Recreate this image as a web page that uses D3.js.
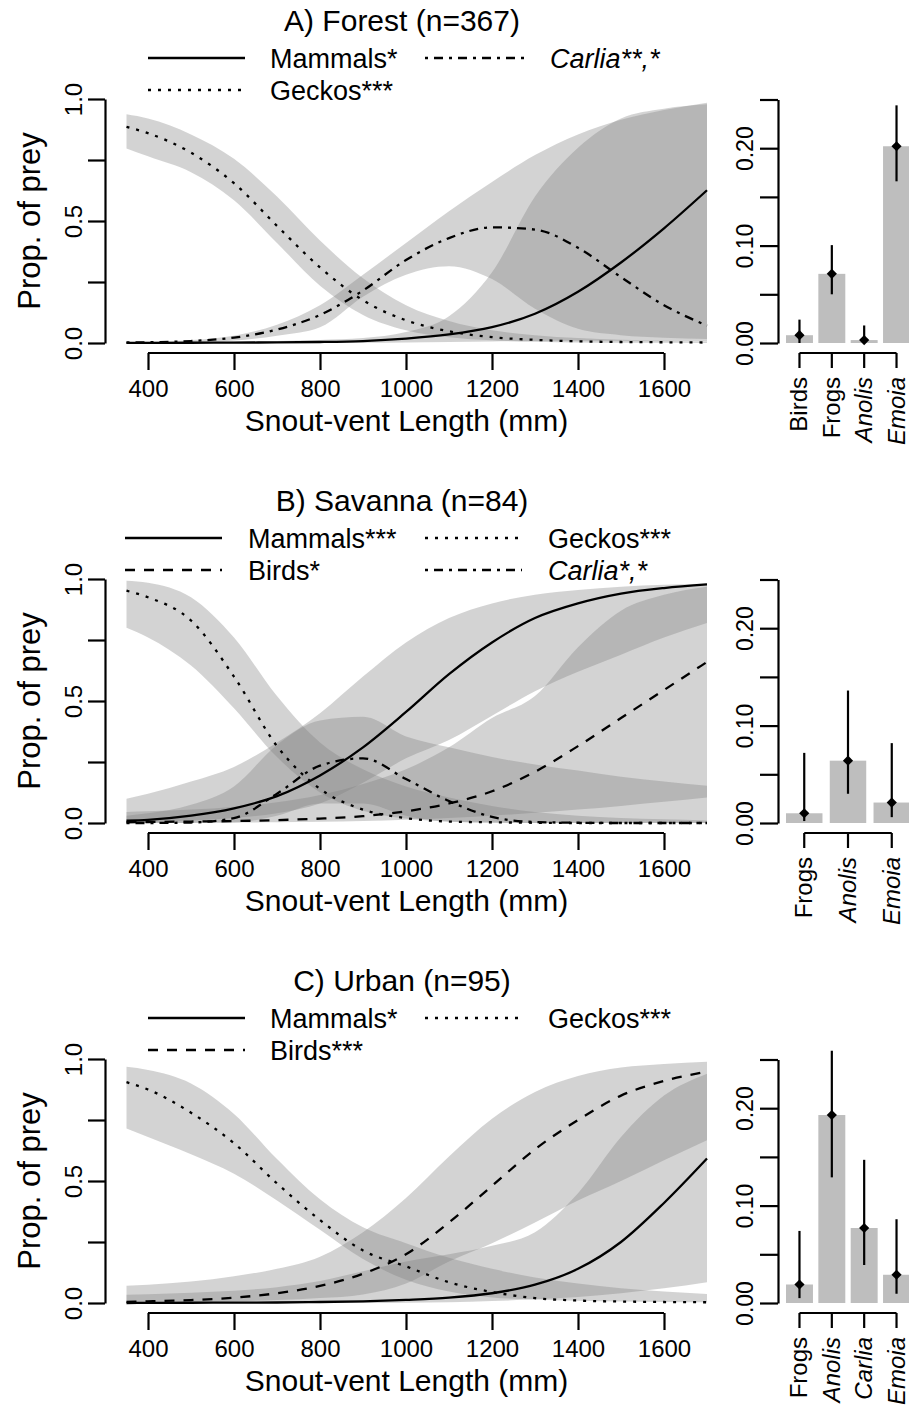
<!DOCTYPE html>
<html>
<head>
<meta charset="utf-8">
<script src="https://cdn.jsdelivr.net/npm/d3@7"></script>
<style>
  body { margin: 0; background: #fff; }
  text { font-family: "Liberation Sans", Arial, Helvetica, sans-serif; fill: #000; }
</style>
</head>
<body>
<svg id="fig" width="909" height="1412"></svg>
<script>
// ---- data ----
// snout-vent length sample points (mm)
const svl = [350, 400, 500, 600, 700, 800, 900, 1000, 1100, 1200, 1300, 1400, 1500, 1600, 1700];

// A) Forest
const forestMammals   = [0.0005, 0.0006, 0.001, 0.0015, 0.0025, 0.004, 0.008, 0.018, 0.035, 0.065, 0.12, 0.21, 0.33, 0.47, 0.626];
const forestMammalsLo = [0, 0, 0, 0, 0, 0.0005, 0.001, 0.002, 0.004, 0.006, 0.008, 0.009, 0.009, 0.008, 0.007];
const forestMammalsHi = [0.004, 0.004, 0.005, 0.006, 0.008, 0.012, 0.02, 0.045, 0.11, 0.29, 0.6, 0.8, 0.92, 0.96, 0.978];
const forestCarlia    = [0.002, 0.003, 0.008, 0.022, 0.055, 0.115, 0.215, 0.34, 0.43, 0.474, 0.465, 0.39, 0.27, 0.155, 0.071];
const forestCarliaLo  = [0, 0.001, 0.003, 0.01, 0.03, 0.065, 0.19, 0.28, 0.315, 0.262, 0.14, 0.058, 0.032, 0.022, 0.016];
const forestCarliaHi  = [0.003, 0.005, 0.012, 0.03, 0.075, 0.155, 0.28, 0.41, 0.54, 0.66, 0.77, 0.855, 0.915, 0.955, 0.985];
const forestGeckos    = [0.886, 0.86, 0.78, 0.655, 0.48, 0.31, 0.175, 0.093, 0.048, 0.024, 0.013, 0.007, 0.004, 0.003, 0.002];
const forestGeckosLo  = [0.797, 0.765, 0.70, 0.585, 0.41, 0.235, 0.115, 0.052, 0.024, 0.011, 0.005, 0.002, 0.001, 0.001, 0];
const forestGeckosHi  = [0.937, 0.92, 0.855, 0.755, 0.60, 0.42, 0.265, 0.155, 0.09, 0.052, 0.032, 0.02, 0.013, 0.009, 0.006];

// B) Savanna
const savMammals   = [0.01, 0.013, 0.03, 0.06, 0.11, 0.195, 0.31, 0.455, 0.61, 0.74, 0.84, 0.9, 0.94, 0.963, 0.978];
const savMammalsLo = [0.003, 0.004, 0.01, 0.02, 0.04, 0.08, 0.165, 0.265, 0.34, 0.44, 0.54, 0.62, 0.69, 0.76, 0.82];
const savMammalsHi = [0.099, 0.12, 0.17, 0.23, 0.33, 0.45, 0.6, 0.74, 0.84, 0.9, 0.935, 0.955, 0.968, 0.976, 0.982];
const savBirds     = [0.003, 0.004, 0.006, 0.008, 0.012, 0.018, 0.028, 0.048, 0.08, 0.13, 0.21, 0.315, 0.43, 0.545, 0.66];
const savBirdsLo   = [0, 0, 0.001, 0.002, 0.003, 0.005, 0.008, 0.013, 0.02, 0.03, 0.042, 0.055, 0.07, 0.087, 0.105];
const savBirdsHi   = [0.045, 0.048, 0.055, 0.067, 0.085, 0.115, 0.16, 0.22, 0.31, 0.43, 0.52, 0.72, 0.87, 0.935, 0.968];
const savGeckos    = [0.952, 0.925, 0.83, 0.60, 0.315, 0.14, 0.055, 0.02, 0.006, 0.003, 0.001, 0, 0, 0, 0];
const savGeckosLo  = [0.80, 0.76, 0.645, 0.47, 0.27, 0.125, 0.05, 0.018, 0.006, 0.002, 0, 0, 0, 0, 0];
const savGeckosHi  = [0.993, 0.985, 0.925, 0.76, 0.52, 0.33, 0.22, 0.15, 0.105, 0.07, 0.045, 0.03, 0.02, 0.015, 0.01];
const savCarlia    = [0, 0, 0.002, 0.02, 0.12, 0.235, 0.265, 0.18, 0.09, 0.025, 0.004, 0.001, 0, 0, 0];
const savCarliaLo  = [0, 0, 0, 0.002, 0.03, 0.08, 0.08, 0.03, 0.005, 0.001, 0, 0, 0, 0, 0];
const savCarliaHi  = [0.03, 0.04, 0.075, 0.15, 0.32, 0.42, 0.435, 0.355, 0.31, 0.27, 0.24, 0.215, 0.19, 0.17, 0.153];

// C) Urban
const urbMammals   = [0, 0.0005, 0.001, 0.0015, 0.002, 0.004, 0.007, 0.013, 0.022, 0.04, 0.075, 0.14, 0.25, 0.41, 0.592];
const urbMammalsLo = [0, 0, 0, 0, 0, 0, 0, 0.001, 0.003, 0.008, 0.015, 0.025, 0.04, 0.06, 0.085];
const urbMammalsHi = [0.034, 0.036, 0.042, 0.05, 0.065, 0.09, 0.13, 0.17, 0.2, 0.235, 0.29, 0.45, 0.68, 0.85, 0.94];
const urbBirds     = [0.005, 0.007, 0.012, 0.022, 0.04, 0.07, 0.12, 0.2, 0.33, 0.48, 0.63, 0.75, 0.85, 0.91, 0.948];
const urbBirdsLo   = [0.001, 0.002, 0.004, 0.007, 0.012, 0.02, 0.035, 0.08, 0.17, 0.245, 0.33, 0.42, 0.5, 0.585, 0.667];
const urbBirdsHi   = [0.071, 0.075, 0.088, 0.11, 0.14, 0.19, 0.29, 0.43, 0.6, 0.755, 0.865, 0.93, 0.965, 0.98, 0.989];
const urbGeckos    = [0.905, 0.875, 0.78, 0.655, 0.49, 0.34, 0.215, 0.15, 0.085, 0.045, 0.02, 0.01, 0.006, 0.004, 0.003];
const urbGeckosLo  = [0.715, 0.68, 0.61, 0.53, 0.42, 0.3, 0.18, 0.095, 0.047, 0.023, 0.014, 0.009, 0.006, 0.004, 0.003];
const urbGeckosHi  = [0.968, 0.955, 0.9, 0.775, 0.59, 0.425, 0.31, 0.245, 0.185, 0.14, 0.105, 0.08, 0.06, 0.047, 0.037];

// bar panels: proportion of other prey with intervals
const forestPrey = ["Birds", "Frogs", "Anolis", "Emoia"];
const forestProp = [0.008, 0.071, 0.003, 0.202];
const forestLo   = [0.0, 0.05, 0.0, 0.166];
const forestHi   = [0.024, 0.1005, 0.018, 0.244];

const savPrey = ["Frogs", "Anolis", "Emoia"];
const savProp = [0.010, 0.064, 0.021];
const savLo   = [0.002, 0.03, 0.006];
const savHi   = [0.072, 0.136, 0.082];

const urbPrey = ["Frogs", "Anolis", "Carlia", "Emoia"];
const urbProp = [0.019, 0.193, 0.077, 0.029];
const urbLo   = [0.005, 0.129, 0.039, 0.0095];
const urbHi   = [0.074, 0.259, 0.147, 0.086];

const italicNames = ["Anolis", "Emoia", "Carlia"];
const xTicks = [400, 600, 800, 1000, 1200, 1400, 1600];

// ---- styles ----
const dashes = {
  solid: null,
  dashed: "10,9",
  dotted: "3,7",
  dotdash: "3,6,9,6"
};
const bandFill = "rgba(128,128,128,0.35)";
const barFill = "#bebebe";
const lineW = 2.3;
const axisW = 2.2;

const pack = (m, lo, hi) => svl.map((x, i) => ({ x: x, m: m[i], lo: lo[i], hi: hi[i] }));

const panels = [
  {
    title: "A) Forest (n=367)", dy: 0,
    series: [
      { name: "Mammals", data: pack(forestMammals, forestMammalsLo, forestMammalsHi), dash: "solid" },
      { name: "Carlia", data: pack(forestCarlia, forestCarliaLo, forestCarliaHi), dash: "dotdash" },
      { name: "Geckos", data: pack(forestGeckos, forestGeckosLo, forestGeckosHi), dash: "dotted" }
    ],
    legend: [
      { label: "Mammals*", italic: false, dash: "solid", x0: 148, x1: 245, tx: 270, row: 0 },
      { label: "Carlia**,*", italic: true, dash: "dotdash", x0: 425, x1: 525, tx: 550, row: 0 },
      { label: "Geckos***", italic: false, dash: "dotted", x0: 148, x1: 245, tx: 270, row: 1 }
    ],
    bars: { prey: forestPrey, prop: forestProp, lo: forestLo, hi: forestHi }
  },
  {
    title: "B) Savanna (n=84)", dy: 480,
    series: [
      { name: "Mammals", data: pack(savMammals, savMammalsLo, savMammalsHi), dash: "solid" },
      { name: "Birds", data: pack(savBirds, savBirdsLo, savBirdsHi), dash: "dashed" },
      { name: "Geckos", data: pack(savGeckos, savGeckosLo, savGeckosHi), dash: "dotted" },
      { name: "Carlia", data: pack(savCarlia, savCarliaLo, savCarliaHi), dash: "dotdash" }
    ],
    legend: [
      { label: "Mammals***", italic: false, dash: "solid", x0: 125, x1: 222, tx: 248, row: 0 },
      { label: "Geckos***", italic: false, dash: "dotted", x0: 425, x1: 522, tx: 548, row: 0 },
      { label: "Birds*", italic: false, dash: "dashed", x0: 125, x1: 222, tx: 248, row: 1 },
      { label: "Carlia*,*", italic: true, dash: "dotdash", x0: 425, x1: 522, tx: 548, row: 1 }
    ],
    bars: { prey: savPrey, prop: savProp, lo: savLo, hi: savHi }
  },
  {
    title: "C) Urban (n=95)", dy: 960,
    series: [
      { name: "Mammals", data: pack(urbMammals, urbMammalsLo, urbMammalsHi), dash: "solid" },
      { name: "Birds", data: pack(urbBirds, urbBirdsLo, urbBirdsHi), dash: "dashed" },
      { name: "Geckos", data: pack(urbGeckos, urbGeckosLo, urbGeckosHi), dash: "dotted" }
    ],
    legend: [
      { label: "Mammals*", italic: false, dash: "solid", x0: 148, x1: 245, tx: 270, row: 0 },
      { label: "Geckos***", italic: false, dash: "dotted", x0: 425, x1: 522, tx: 548, row: 0 },
      { label: "Birds***", italic: false, dash: "dashed", x0: 148, x1: 245, tx: 270, row: 1 }
    ],
    bars: { prey: urbPrey, prop: urbProp, lo: urbLo, hi: urbHi }
  }
];

const svg = d3.select("#fig");
svg.append("rect").attr("width", 909).attr("height", 1412).attr("fill", "#fff");

const x = d3.scaleLinear().domain([350, 1700]).range([126.5, 707]);

panels.forEach(p => {
  const dy = p.dy;
  const g = svg.append("g");
  const y = d3.scaleLinear().domain([0, 1]).range([343 + dy, 99 + dy]);

  // title
  g.append("text")
    .attr("x", 402).attr("y", 31 + dy)
    .attr("text-anchor", "middle")
    .style("font-size", "30px")
    .text(p.title);

  // legend
  p.legend.forEach(l => {
    const ly = 58 + dy + l.row * 32;
    g.append("line")
      .attr("x1", l.x0).attr("x2", l.x1).attr("y1", ly).attr("y2", ly)
      .attr("stroke", "#000").attr("stroke-width", lineW)
      .attr("stroke-dasharray", dashes[l.dash]);
    g.append("text")
      .attr("x", l.tx).attr("y", ly + 9.5)
      .style("font-size", "27px")
      .style("font-style", l.italic ? "italic" : "normal")
      .text(l.label);
  });

  // confidence bands
  const area = d3.area()
    .x(d => x(d.x)).y0(d => y(d.lo)).y1(d => y(d.hi))
    .curve(d3.curveMonotoneX);
  g.append("g").selectAll("path")
    .data(p.series)
    .join("path")
    .attr("d", s => area(s.data))
    .attr("fill", bandFill);

  // fitted lines
  const line = d3.line().x(d => x(d.x)).y(d => y(d.m)).curve(d3.curveMonotoneX);
  g.append("g").selectAll("path")
    .data(p.series)
    .join("path")
    .attr("d", s => line(s.data))
    .attr("fill", "none")
    .attr("stroke", "#000")
    .attr("stroke-width", lineW)
    .attr("stroke-dasharray", s => dashes[s.dash]);

  // y axis
  const yAxis = g.append("g")
    .attr("transform", "translate(105,0)")
    .call(d3.axisLeft(y).tickValues([0, 0.25, 0.5, 0.75, 1]).tickSize(17).tickSizeOuter(0)
      .tickFormat(d => (d * 2) % 1 === 0 ? d3.format(".1f")(d) : ""));
  yAxis.selectAll("path,line").attr("stroke", "#000").attr("stroke-width", axisW);
  yAxis.selectAll("text")
    .attr("transform", "rotate(-90)")
    .attr("x", 0).attr("y", -23).attr("dy", null)
    .attr("text-anchor", "middle")
    .style("font-size", "24px").style("font-family", null);

  // x axis
  const xAxis = g.append("g")
    .attr("transform", `translate(0,${353 + dy})`)
    .call(d3.axisBottom(x).tickValues(xTicks).tickSize(17).tickSizeOuter(0).tickFormat(d3.format("d")));
  xAxis.select(".domain").remove();
  xAxis.append("line")
    .attr("x1", x(xTicks[0])).attr("x2", x(xTicks[xTicks.length - 1]))
    .attr("y1", 0).attr("y2", 0);
  xAxis.selectAll("line").attr("stroke", "#000").attr("stroke-width", axisW);
  xAxis.selectAll("text")
    .attr("y", 44).attr("dy", null)
    .style("font-size", "24px").style("font-family", null);

  // axis titles
  g.append("text")
    .attr("transform", `translate(40,${221 + dy}) rotate(-90)`)
    .attr("text-anchor", "middle")
    .style("font-size", "31px")
    .text("Prop. of prey");
  g.append("text")
    .attr("x", x(1000) + 0.5).attr("y", 431 + dy)
    .attr("text-anchor", "middle")
    .style("font-size", "30px")
    .text("Snout-vent Length (mm)");

  // ---- bar panel ----
  const b = p.bars;
  const bx = d3.scaleBand().domain(b.prey).range([786, 910]).paddingInner(0.2 / 1.2).paddingOuter(0);
  const by = d3.scaleLinear().domain([0, 0.25]).range([343 + dy, 99.5 + dy]);
  const bg = svg.append("g");
  const rows = b.prey.map((k, i) => ({ k: k, v: b.prop[i], lo: b.lo[i], hi: b.hi[i] }));

  bg.selectAll("rect.bar")
    .data(rows)
    .join("rect")
    .attr("class", "bar")
    .attr("x", d => bx(d.k)).attr("width", bx.bandwidth())
    .attr("y", d => by(d.v)).attr("height", d => by(0) - by(d.v))
    .attr("fill", barFill);

  bg.selectAll("line.err")
    .data(rows)
    .join("line")
    .attr("class", "err")
    .attr("x1", d => bx(d.k) + bx.bandwidth() / 2).attr("x2", d => bx(d.k) + bx.bandwidth() / 2)
    .attr("y1", d => by(d.lo)).attr("y2", d => by(d.hi))
    .attr("stroke", "#000").attr("stroke-width", axisW);

  bg.selectAll("path.pt")
    .data(rows)
    .join("path")
    .attr("class", "pt")
    .attr("d", d3.symbol().type(d3.symbolSquare).size(52))
    .attr("transform", d => `translate(${bx(d.k) + bx.bandwidth() / 2},${by(d.v)}) rotate(45)`)
    .attr("fill", "#000");

  const byAxis = bg.append("g")
    .attr("transform", "translate(778,0)")
    .call(d3.axisLeft(by).tickValues([0, 0.05, 0.1, 0.15, 0.2, 0.25]).tickSize(18).tickSizeOuter(0)
      .tickFormat(d => [0, 0.1, 0.2].some(v => Math.abs(v - d) < 1e-9) ? d3.format(".2f")(d) : ""));
  byAxis.selectAll("path,line").attr("stroke", "#000").attr("stroke-width", axisW);
  byAxis.selectAll("text")
    .attr("transform", "rotate(-90)")
    .attr("x", 0).attr("y", -25).attr("dy", null)
    .attr("text-anchor", "middle")
    .style("font-size", "23px").style("font-family", null);

  const bxAxis = bg.append("g")
    .attr("transform", `translate(0,${353 + dy})`)
    .call(d3.axisBottom(bx).tickSize(15).tickSizeOuter(0));
  bxAxis.select(".domain").remove();
  const c0 = bx(b.prey[0]) + bx.bandwidth() / 2;
  const c1 = bx(b.prey[b.prey.length - 1]) + bx.bandwidth() / 2;
  bxAxis.append("line").attr("x1", c0).attr("x2", c1).attr("y1", 0).attr("y2", 0);
  bxAxis.selectAll("line").attr("stroke", "#000").attr("stroke-width", axisW);
  bxAxis.selectAll("text")
    .attr("transform", "rotate(-90)")
    .attr("x", -24).attr("y", 8).attr("dy", null)
    .attr("text-anchor", "end")
    .style("font-size", "24px").style("font-family", null)
    .style("font-style", d => italicNames.includes(d) ? "italic" : "normal");
});
</script>
</body>
</html>
